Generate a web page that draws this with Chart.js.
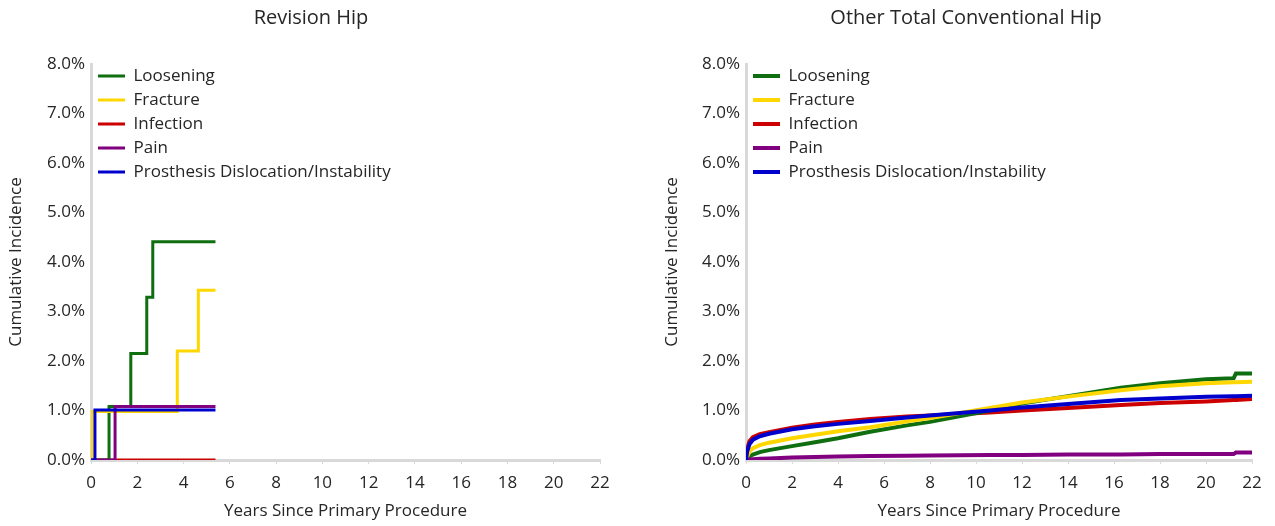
<!DOCTYPE html>
<html>
<head>
<meta charset="utf-8">
<script src="https://cdn.jsdelivr.net/npm/chart.js@4"></script>
<style>
  body { margin: 0; background: #fff; width: 1275px; height: 526px; overflow: hidden; }
  .box { position: absolute; top: 0; height: 526px; }
</style>
</head>
<body>
<div class="box" style="left:0;width:637px"><canvas id="revChart" width="637" height="526"></canvas></div>
<div class="box" style="left:622px;width:653px"><canvas id="otherChart" width="653" height="526"></canvas></div>
<script>
// Series names and colours
const seriesNames = ['Loosening', 'Fracture', 'Infection', 'Pain', 'Prosthesis Dislocation/Instability'];
const seriesColors = ['#0f6e0f', '#ffd700', '#cc0000', '#800080', '#0000cc'];
// drawing order (lower = on top)
const seriesOrder = [3, 2, 4, 1, 0];

// x axis ticks (years)
const yearTicks = [0, 2, 4, 6, 8, 10, 12, 14, 16, 18, 20, 22];

// Revision Hip - step curves (years, cumulative incidence %)
const revLooseningX = [0, 0.78, 1.72, 2.41, 2.67, 5.38];
const revLooseningY = [0, 1.08, 2.15, 3.29, 4.41, 4.41];
const revFractureX = [0, 0.03, 3.73, 4.64, 5.38];
const revFractureY = [0, 0.98, 2.2, 3.43, 3.43];
const revInfectionX = [0, 5.38];
const revInfectionY = [0, 0];
const revPainX = [0, 1.04, 5.38];
const revPainY = [0, 1.08, 1.08];
const revDislocX = [0, 0.17, 5.38];
const revDislocY = [0, 1.01, 1.01];

// Other Total Conventional Hip (years, cumulative incidence %)
const otherYears = [0, 0.05, 0.15, 0.3, 0.6, 1, 2, 3, 4, 5.4, 7, 8, 10.6, 12, 14, 16.3, 18, 20, 21.2, 21.3, 22];
const otherLoosening = [0, 0.03, 0.07, 0.11, 0.16, 0.2, 0.28, 0.36, 0.44, 0.57, 0.7, 0.77, 1.0, 1.14, 1.29, 1.46, 1.55, 1.63, 1.65, 1.75, 1.75];
const otherFracture = [0, 0.07, 0.17, 0.24, 0.3, 0.35, 0.44, 0.51, 0.58, 0.66, 0.78, 0.85, 1.05, 1.16, 1.28, 1.41, 1.49, 1.55, 1.57, 1.57, 1.58];
const otherInfection = [0, 0.22, 0.38, 0.46, 0.52, 0.56, 0.65, 0.72, 0.77, 0.83, 0.88, 0.9, 0.96, 1.0, 1.05, 1.11, 1.15, 1.18, 1.21, 1.21, 1.23];
const otherPain = [0, 0.005, 0.01, 0.015, 0.025, 0.03, 0.05, 0.06, 0.07, 0.08, 0.085, 0.09, 0.1, 0.1, 0.11, 0.11, 0.12, 0.12, 0.12, 0.15, 0.15];
const otherDisloc = [0, 0.17, 0.32, 0.41, 0.48, 0.53, 0.62, 0.68, 0.73, 0.79, 0.86, 0.9, 1.0, 1.06, 1.13, 1.21, 1.24, 1.28, 1.29, 1.29, 1.3];

const FONT = "'Open Sans', sans-serif";
const TEXT = '#262626';
const AXIS = '#d9d9d9';

// legend sits inside the plot area, top left
const legendInArea = {
    id: 'legendInArea',
    afterLayout(chart) {
        const l = chart.legend;
        const dy = chart.chartArea.top - 3.5 - l.top;
        l.top += dy;
        l.bottom += dy;
    }
};

function pts(xs, ys) {
    return xs.map((x, i) => ({ x: x, y: ys[i] }));
}

function makeDatasets(pairs, stepped, width) {
    return pairs.map((p, i) => ({
        label: seriesNames[i],
        data: pts(p[0], p[1]),
        borderColor: seriesColors[i],
        backgroundColor: seriesColors[i],
        borderWidth: width,
        pointRadius: 0,
        stepped: stepped,
        tension: 0,
        order: seriesOrder[i]
    }));
}

function makeOptions(title, pad, yWidth, yTitlePad) {
    return {
        responsive: false,
        animation: false,
        devicePixelRatio: 1,
        layout: { padding: pad },
        plugins: {
            title: {
                display: true,
                text: title,
                color: TEXT,
                font: { family: FONT, size: 20, weight: 'normal' },
                padding: { top: 6, bottom: 34 }
            },
            legend: {
                position: 'chartArea',
                align: 'start',
                labels: {
                    usePointStyle: true,
                    pointStyle: 'line',
                    pointStyleWidth: 27,
                    padding: 7,
                    color: TEXT,
                    font: { family: FONT, size: 17 },
                    sort: (a, b) => a.datasetIndex - b.datasetIndex
                }
            },
            tooltip: { enabled: false }
        },
        scales: {
            x: {
                type: 'linear',
                min: 0,
                max: 22,
                afterBuildTicks: s => { s.ticks = yearTicks.map(v => ({ value: v })); },
                afterFit: s => { s.height = 66; s.paddingLeft = 0; s.paddingRight = 0; },
                grid: { drawOnChartArea: false, drawTicks: true, tickLength: 4, color: AXIS },
                border: { display: true, color: AXIS, width: 3 },
                ticks: { color: TEXT, font: { family: FONT, size: 17 }, padding: 9, maxRotation: 0 },
                title: {
                    display: true,
                    text: 'Years Since Primary Procedure',
                    color: TEXT,
                    font: { family: FONT, size: 17 },
                    padding: { top: 0, bottom: 5 }
                }
            },
            y: {
                min: 0,
                max: 8,
                afterFit: s => { s.width = yWidth; },
                grid: { display: false, drawTicks: false },
                border: { display: true, color: AXIS, width: 3 },
                ticks: {
                    stepSize: 1,
                    color: TEXT,
                    padding: 6,
                    font: { family: FONT, size: 17 },
                    callback: v => v.toFixed(1) + '%'
                },
                title: {
                    display: true,
                    text: 'Cumulative Incidence',
                    color: TEXT,
                    font: { family: FONT, size: 17 },
                    padding: { top: yTitlePad, bottom: 0 }
                }
            }
        }
    };
}

// Revision Hip
new Chart(document.getElementById('revChart').getContext('2d'), {
    type: 'line',
    data: {
        datasets: makeDatasets([
            [revLooseningX, revLooseningY],
            [revFractureX, revFractureY],
            [revInfectionX, revInfectionY],
            [revPainX, revPainY],
            [revDislocX, revDislocY]
        ], 'before', 3)
    },
    options: makeOptions('Revision Hip', { left: 22, right: 37, top: 0, bottom: 0 }, 69, -16),
    plugins: [legendInArea]
});

// Other Total Conventional Hip
new Chart(document.getElementById('otherChart').getContext('2d'), {
    type: 'line',
    data: {
        datasets: makeDatasets([
            [otherYears, otherLoosening],
            [otherYears, otherFracture],
            [otherYears, otherInfection],
            [otherYears, otherPain],
            [otherYears, otherDisloc]
        ], false, 4)
    },
    options: makeOptions('Other Total Conventional Hip', { left: 58, right: 23, top: 0, bottom: 0 }, 66, -18),
    plugins: [legendInArea]
});
</script>
</body>
</html>
